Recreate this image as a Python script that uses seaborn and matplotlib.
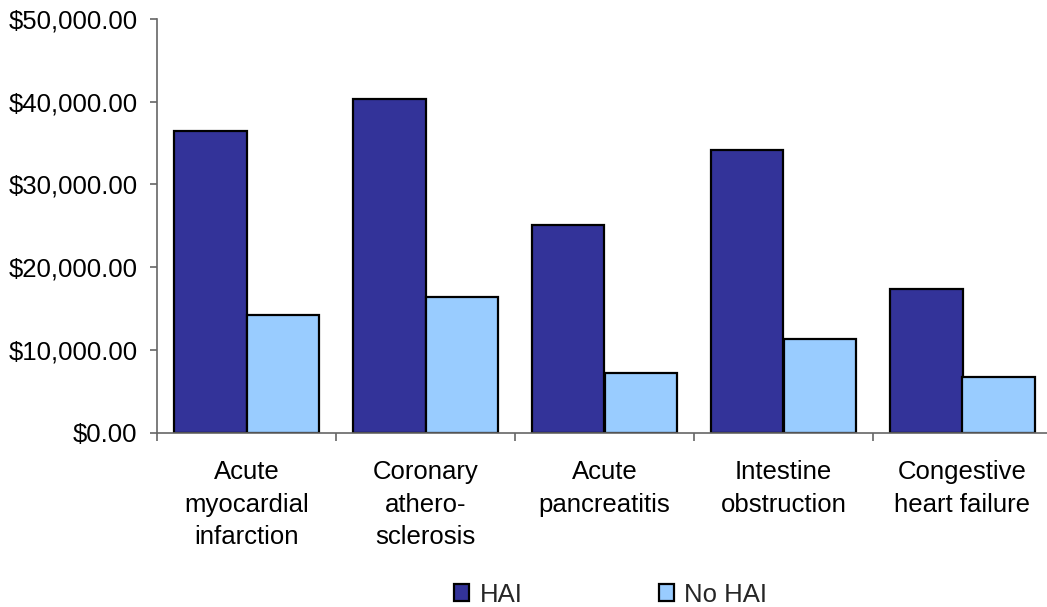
import matplotlib
matplotlib.use("Agg")
import matplotlib.pyplot as plt
import matplotlib.ticker as mticker
import seaborn as sns
import pandas as pd

# Mean hospital cost by diagnosis, with and without a hospital-acquired infection
categories = [
    "Acute\nmyocardial\ninfarction",
    "Coronary\nathero-\nsclerosis",
    "Acute\npancreatitis",
    "Intestine\nobstruction",
    "Congestive\nheart failure",
]
hai_cost = [36500, 40300, 25100, 34100, 17400]
no_hai_cost = [14250, 16400, 7200, 11300, 6750]
series_names = ["HAI", "No HAI"]
colors = {"HAI": "#333399", "No HAI": "#99CCFF"}

df = pd.DataFrame({
    "Diagnosis": categories * 2,
    "Cost": hai_cost + no_hai_cost,
    "Group": [series_names[0]] * len(categories) + [series_names[1]] * len(categories),
})

sns.set_theme(style="white")
plt.rcParams["font.family"] = ["Liberation Sans", "DejaVu Sans"]
FS = 18.5
plt.rcParams["font.size"] = FS

fig = plt.figure(figsize=(10.47, 6.07), dpi=100)
ax = fig.add_axes([157 / 1047, 1 - 432.5 / 607, 895 / 1047, (432.5 - 19) / 607])

sns.barplot(
    data=df, x="Diagnosis", y="Cost", hue="Group",
    hue_order=series_names, palette=colors, order=categories,
    width=0.81, edgecolor="black", linewidth=1.6, saturation=1,
    ax=ax,
)

ax.set_ylim(0, 50000)
ax.set_xlim(-0.5, len(categories) - 0.5)
ax.yaxis.set_major_locator(mticker.MultipleLocator(10000))
ax.yaxis.set_major_formatter(mticker.StrMethodFormatter("${x:,.2f}"))
ax.set_xlabel("")
ax.set_ylabel("")

# Category labels centred under each group, tick marks between groups
ax.tick_params(axis="x", which="major", length=0, pad=20, labelsize=FS, labelcolor="black")
ax.set_xticks(range(len(categories)))
ax.set_xticklabels(categories, linespacing=1.45)
ax.set_xticks([i - 0.5 for i in range(len(categories) + 1)], minor=True)
ax.tick_params(axis="x", which="minor", direction="out", length=6, width=1.2,
               color="#666666", bottom=True)
ax.tick_params(axis="y", direction="out", length=5, width=1.2, color="#666666",
               pad=9, labelsize=FS, labelcolor="black", left=True)

for side in ("top", "right"):
    ax.spines[side].set_visible(False)
for side in ("left", "bottom"):
    ax.spines[side].set_color("#666666")
    ax.spines[side].set_linewidth(1.2)

handles, labels = ax.get_legend_handles_labels()
ax.legend(
    handles, labels, ncol=2, loc="center", bbox_to_anchor=(0.507, -0.392),
    frameon=False, handlelength=0.6, handleheight=0.6, handletextpad=0.4,
    columnspacing=5.3, fontsize=FS,
)

fig.savefig("out.png", dpi=100)
